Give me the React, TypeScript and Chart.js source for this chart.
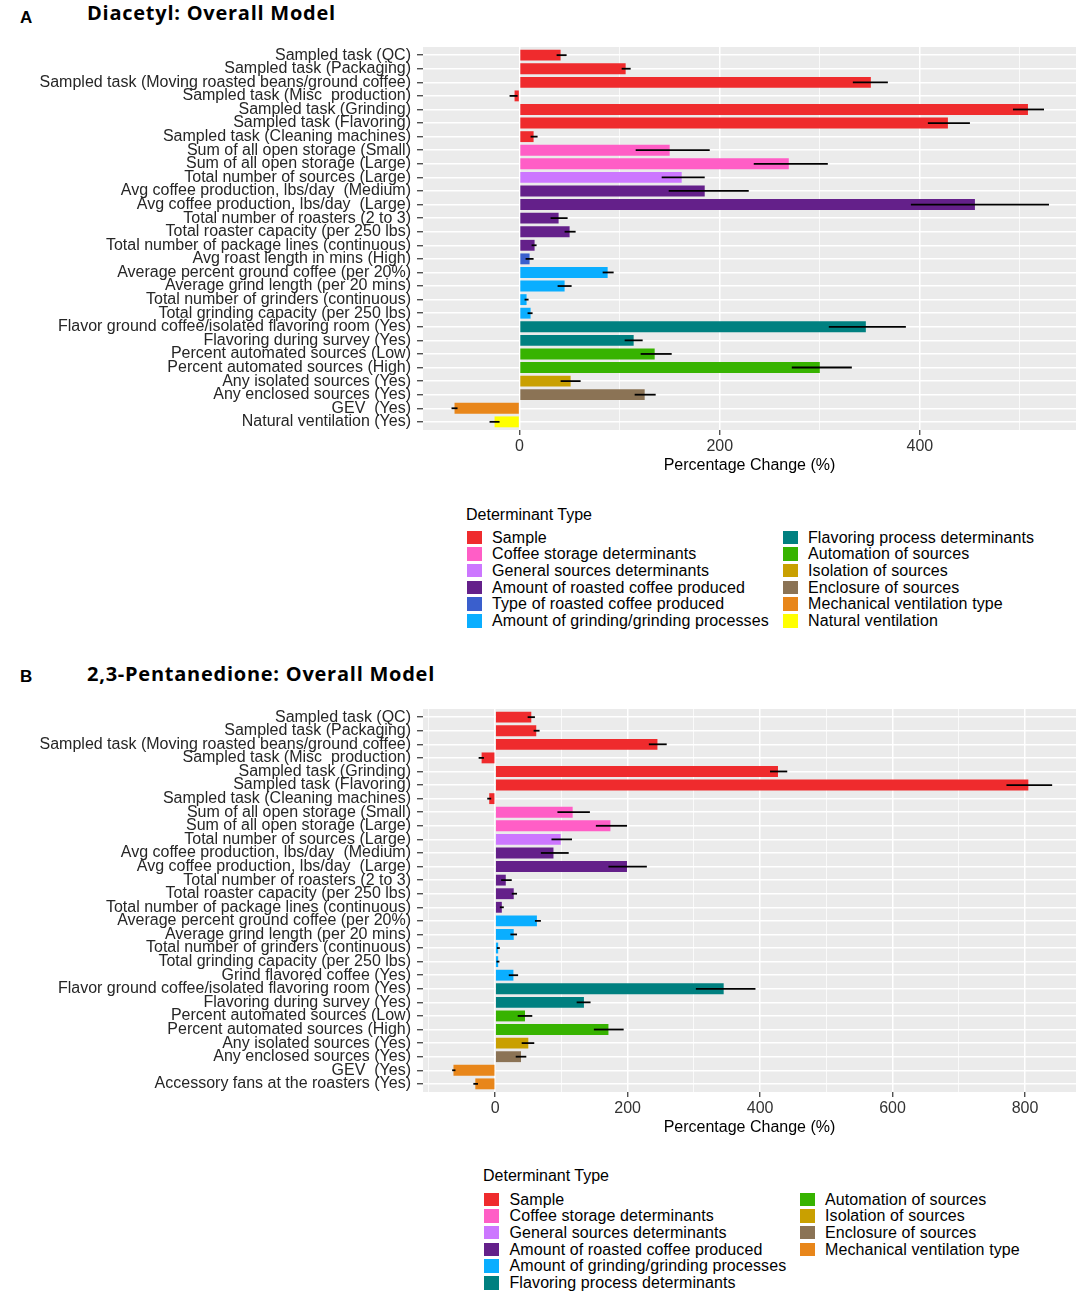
import React, { useEffect, useRef } from "react";
import { Chart, registerables } from "chart.js";
Chart.register(...registerables);

// ---------- data ----------
const GROUPS = [
  "Sample",
  "Coffee storage determinants",
  "General sources determinants",
  "Amount of roasted coffee produced",
  "Type of roasted coffee produced",
  "Amount of grinding/grinding processes",
  "Flavoring process determinants",
  "Automation of sources",
  "Isolation of sources",
  "Enclosure of sources",
  "Mechanical ventilation type",
  "Natural ventilation",
];
const GROUP_COLORS = [
  "#EF2B2D", "#FF5EC6", "#CC77FF", "#64208A", "#3A5FCD", "#0AAEFF",
  "#008080", "#37B300", "#C9A000", "#8B7355", "#E8861A", "#FFFF00",
];

const A_LABELS = [
  "Sampled task (QC)",
  "Sampled task (Packaging)",
  "Sampled task (Moving roasted beans/ground coffee)",
  "Sampled task (Misc  production)",
  "Sampled task (Grinding)",
  "Sampled task (Flavoring)",
  "Sampled task (Cleaning machines)",
  "Sum of all open storage (Small)",
  "Sum of all open storage (Large)",
  "Total number of sources (Large)",
  "Avg coffee production, lbs/day  (Medium)",
  "Avg coffee production, lbs/day  (Large)",
  "Total number of roasters (2 to 3)",
  "Total roaster capacity (per 250 lbs)",
  "Total number of package lines (continuous)",
  "Avg roast length in mins (High)",
  "Average percent ground coffee (per 20%)",
  "Average grind length (per 20 mins)",
  "Total number of grinders (continuous)",
  "Total grinding capacity (per 250 lbs)",
  "Flavor ground coffee/isolated flavoring room (Yes)",
  "Flavoring during survey (Yes)",
  "Percent automated sources (Low)",
  "Percent automated sources (High)",
  "Any isolated sources (Yes)",
  "Any enclosed sources (Yes)",
  "GEV  (Yes)",
  "Natural ventilation (Yes)",
];
const A_GROUP = [
  "Sample", "Sample", "Sample", "Sample", "Sample", "Sample", "Sample",
  "Coffee storage determinants", "Coffee storage determinants",
  "General sources determinants",
  "Amount of roasted coffee produced", "Amount of roasted coffee produced",
  "Amount of roasted coffee produced", "Amount of roasted coffee produced",
  "Amount of roasted coffee produced",
  "Type of roasted coffee produced",
  "Amount of grinding/grinding processes", "Amount of grinding/grinding processes",
  "Amount of grinding/grinding processes", "Amount of grinding/grinding processes",
  "Flavoring process determinants", "Flavoring process determinants",
  "Automation of sources", "Automation of sources",
  "Isolation of sources", "Enclosure of sources",
  "Mechanical ventilation type", "Natural ventilation",
];
const A_VALUES = [41, 106, 351, -5, 508, 428, 14, 150, 269, 162, 185, 455, 39, 50, 15, 10, 88, 45, 7, 11, 346, 114, 135, 300, 51, 125, -65, -25];
const A_LOWER = [37, 102, 333, -10, 493, 408, 11, 116, 234, 142, 149, 391, 31, 45, 12, 6, 83, 38, 5, 8, 309, 105, 121, 272, 41, 115, -68, -30];
const A_UPPER = [47, 111, 368, -2, 524, 450, 18, 190, 308, 185, 229, 529, 48, 56, 17, 14, 94, 52, 9, 13, 386, 123, 152, 332, 61, 136, -62, -20];
const A_TICKS = [0, 100, 200, 300, 400, 500];

const B_LABELS = [
  "Sampled task (QC)",
  "Sampled task (Packaging)",
  "Sampled task (Moving roasted beans/ground coffee)",
  "Sampled task (Misc  production)",
  "Sampled task (Grinding)",
  "Sampled task (Flavoring)",
  "Sampled task (Cleaning machines)",
  "Sum of all open storage (Small)",
  "Sum of all open storage (Large)",
  "Total number of sources (Large)",
  "Avg coffee production, lbs/day  (Medium)",
  "Avg coffee production, lbs/day  (Large)",
  "Total number of roasters (2 to 3)",
  "Total roaster capacity (per 250 lbs)",
  "Total number of package lines (continuous)",
  "Average percent ground coffee (per 20%)",
  "Average grind length (per 20 mins)",
  "Total number of grinders (continuous)",
  "Total grinding capacity (per 250 lbs)",
  "Grind flavored coffee (Yes)",
  "Flavor ground coffee/isolated flavoring room (Yes)",
  "Flavoring during survey (Yes)",
  "Percent automated sources (Low)",
  "Percent automated sources (High)",
  "Any isolated sources (Yes)",
  "Any enclosed sources (Yes)",
  "GEV  (Yes)",
  "Accessory fans at the roasters (Yes)",
];
const B_GROUP = [
  "Sample", "Sample", "Sample", "Sample", "Sample", "Sample", "Sample",
  "Coffee storage determinants", "Coffee storage determinants",
  "General sources determinants",
  "Amount of roasted coffee produced", "Amount of roasted coffee produced",
  "Amount of roasted coffee produced", "Amount of roasted coffee produced",
  "Amount of roasted coffee produced",
  "Amount of grinding/grinding processes", "Amount of grinding/grinding processes",
  "Amount of grinding/grinding processes", "Amount of grinding/grinding processes",
  "Amount of grinding/grinding processes",
  "Flavoring process determinants", "Flavoring process determinants",
  "Automation of sources", "Automation of sources",
  "Isolation of sources", "Enclosure of sources",
  "Mechanical ventilation type", "Mechanical ventilation type",
];
const B_VALUES = [54.5, 62, 245, -20.5, 427, 805, -9, 117, 174, 99, 88, 199, 16, 28, 10, 63, 28, 4.5, 4.5, 27.5, 345, 134, 45, 171, 50, 39, -63, -30];
const B_LOWER = [49, 58, 232, -25, 415, 772, -12, 94, 152, 85, 69, 171, 9, 25, 7, 60, 23, 2.6, 2, 20.5, 303, 123, 34, 149, 40, 31, -65, -33];
const B_UPPER = [60, 67, 259, -17, 441, 841, -6, 143, 199, 116, 111, 229, 25, 33, 13, 69, 33, 7, 6.4, 34.6, 393, 144, 56, 194, 59, 47, -60, -26];
const B_TICKS = [-100, 0, 100, 200, 300, 400, 500, 600, 700, 800];

// ---------- styling ----------
const SANS = "'Liberation Sans', Arial, sans-serif";
const TITLE_FONT = "'Open Sans', 'DejaVu Sans', sans-serif";
const PANEL_BG = "#EBEBEB";

const colorOf = (g: string) => GROUP_COLORS[GROUPS.indexOf(g)];

type PanelProps = {
  labels: string[];
  values: number[];
  lower: number[];
  upper: number[];
  groups: string[];
  ticks: number[];
  xMin: number;
  xMax: number;
  top: number;
  height: number;
  padTop: number;
};

function BarPanel(p: PanelProps) {
  const ref = useRef<HTMLCanvasElement | null>(null);
  useEffect(() => {
    if (!ref.current) return;
    const yMin = -0.6;
    const yMax = p.labels.length - 0.4;
    const bgPlugin = {
      id: "panelBg",
      beforeDraw(chart: any) {
        const { ctx, chartArea: a } = chart;
        ctx.save();
        ctx.fillStyle = PANEL_BG;
        ctx.fillRect(a.left, a.top, a.right - a.left, a.bottom - a.top);
        ctx.restore();
      },
    };
    const errPlugin = {
      id: "errBars",
      afterDatasetsDraw(chart: any) {
        const { ctx } = chart;
        const xs = chart.scales.x;
        const ys = chart.scales.y;
        ctx.save();
        ctx.strokeStyle = "#000";
        ctx.lineWidth = 1.8;
        p.lower.forEach((lo, i) => {
          const py = ys.getPixelForValue(i);
          const x1 = xs.getPixelForValue(lo);
          const x2 = xs.getPixelForValue(p.upper[i]);
          ctx.beginPath();
          ctx.moveTo(x1, py);
          ctx.lineTo(x2, py);
          ctx.stroke();
        });
        ctx.restore();
      },
    };
    const chart = new Chart(ref.current, {
      type: "bar",
      data: {
        datasets: [
          {
            data: p.values.map((v, i) => ({ x: v, y: i })) as any,
            backgroundColor: p.groups.map(colorOf),
            borderWidth: 0,
            barPercentage: 0.8,
            categoryPercentage: 1,
          },
        ],
      },
      options: {
        indexAxis: "y",
        animation: false,
        responsive: false,
        events: [],
        layout: { padding: { top: p.padTop, right: 8, left: 0, bottom: 0 } },
        plugins: { legend: { display: false }, tooltip: { enabled: false } },
        scales: {
          x: {
            type: "linear",
            min: p.xMin,
            max: p.xMax,
            bounds: "data",
            offset: false,
            afterBuildTicks: (s: any) => {
              s.ticks = p.ticks.map((v) => ({ value: v }));
              s.min = p.xMin;
              s.max = p.xMax;
            },
            afterFit: (s: any) => {
              s.height = 50;
              s.paddingLeft = 0;
              s.paddingRight = 0;
            },
            border: { display: false },
            grid: {
              offset: false,
              color: "#FFFFFF",
              lineWidth: (c: any) => (c.tick && c.tick.value % 200 === 0 ? 1.5 : 0.75),
              tickColor: (c: any) =>
                c.tick && c.tick.value % 200 === 0 ? "#333333" : "rgba(0,0,0,0)",
              tickWidth: 1.2,
              tickLength: 5,
            },
            ticks: {
              autoSkip: false,
              maxRotation: 0,
              padding: 2,
              color: "#333333",
              font: { family: SANS, size: 16 },
              callback: (v: any) => (Number(v) % 200 === 0 ? String(v) : ""),
            },
            title: {
              display: true,
              text: "Percentage Change (%)",
              color: "#000000",
              font: { family: SANS, size: 16 },
              padding: { top: 0, bottom: 5 },
            },
          },
          y: {
            type: "linear",
            reverse: true,
            min: yMin,
            max: yMax,
            bounds: "data",
            offset: false,
            afterBuildTicks: (s: any) => {
              s.ticks = p.labels.map((_, i) => ({ value: i }));
              s.min = yMin;
              s.max = yMax;
            },
            afterFit: (s: any) => {
              s.width = 423;
              s.paddingTop = 0;
              s.paddingBottom = 0;
            },
            border: { display: false },
            grid: {
              offset: false,
              color: "#FFFFFF",
              lineWidth: 1.5,
              tickColor: "#333333",
              tickWidth: 1.2,
              tickLength: 6,
            },
            ticks: {
              autoSkip: false,
              padding: 6,
              color: "#262626",
              font: { family: SANS, size: 16 },
              callback: (v: any) => p.labels[Number(v)] ?? "",
            },
          },
        },
      },
      plugins: [bgPlugin, errPlugin],
    });
    return () => chart.destroy();
  }, []);
  return (
    <canvas
      ref={ref}
      width={1084}
      height={p.height}
      style={{ position: "absolute", left: 0, top: p.top, width: 1084, height: p.height, display: "block" }}
    />
  );
}

function Legend(props: {
  groups: string[];
  left: number;
  top: number;
  colX: number[];
  textX: number[];
  rowY0: number;
}) {
  const present = GROUPS.filter((g) => props.groups.includes(g));
  const step = 16.7;
  return (
    <>
      <div
        style={{
          position: "absolute", left: props.left, top: props.top, fontFamily: SANS,
          fontSize: 16, lineHeight: "16px", color: "#000", whiteSpace: "nowrap",
        }}
      >
        Determinant Type
      </div>
      {present.map((g, k) => {
        const col = Math.floor(k / 6);
        const row = k % 6;
        const cy = props.rowY0 + row * step;
        return (
          <React.Fragment key={g}>
            <div
              style={{
                position: "absolute", left: props.colX[col], top: cy - 6.75, width: 15, height: 13.5,
                background: colorOf(g),
              }}
            />
            <div
              style={{
                position: "absolute", left: props.textX[col], top: cy - 7.8, fontFamily: SANS,
                fontSize: 16, lineHeight: "16px", color: "#000", whiteSpace: "nowrap",
                letterSpacing: "0.1px",
              }}
            >
              {g}
            </div>
          </React.Fragment>
        );
      })}
    </>
  );
}

function Heading(props: { letter: string; title: string; letterTop: number; titleTop: number }) {
  return (
    <>
      <div
        style={{
          position: "absolute", left: 20, top: props.letterTop, fontFamily: SANS, fontWeight: 700,
          fontSize: 17, lineHeight: "17px", color: "#000",
        }}
      >
        {props.letter}
      </div>
      <div
        style={{
          position: "absolute", left: 87, top: props.titleTop, fontFamily: TITLE_FONT, fontWeight: 700,
          fontSize: 20, lineHeight: "20px", color: "#000", whiteSpace: "nowrap", letterSpacing: "0.75px",
        }}
      >
        {props.title}
      </div>
    </>
  );
}

export default function App() {
  return (
    <div style={{ position: "absolute", left: 0, top: 0, width: 1084, height: 1308, background: "#fff", overflow: "hidden" }}>
      <Heading letter="A" title="Diacetyl: Overall Model" letterTop={9} titleTop={3} />
      <BarPanel
        labels={A_LABELS}
        values={A_VALUES}
        lower={A_LOWER}
        upper={A_UPPER}
        groups={A_GROUP}
        ticks={A_TICKS}
        xMin={-96.5}
        xMax={556}
        top={40}
        height={440}
        padTop={7}
      />
      <Legend groups={A_GROUP} left={466} top={507.2} colX={[467, 783]} textX={[492, 808]} rowY0={537.3} />

      <Heading letter="B" title="2,3-Pentanedione: Overall Model" letterTop={667.5} titleTop={664} />
      <BarPanel
        labels={B_LABELS}
        values={B_VALUES}
        lower={B_LOWER}
        upper={B_UPPER}
        groups={B_GROUP}
        ticks={B_TICKS}
        xMin={-109}
        xMax={877}
        top={700}
        height={442}
        padTop={9}
      />
      <Legend groups={B_GROUP} left={483} top={1168.2} colX={[484, 800]} textX={[509.5, 825]} rowY0={1199.3} />
    </div>
  );
}
